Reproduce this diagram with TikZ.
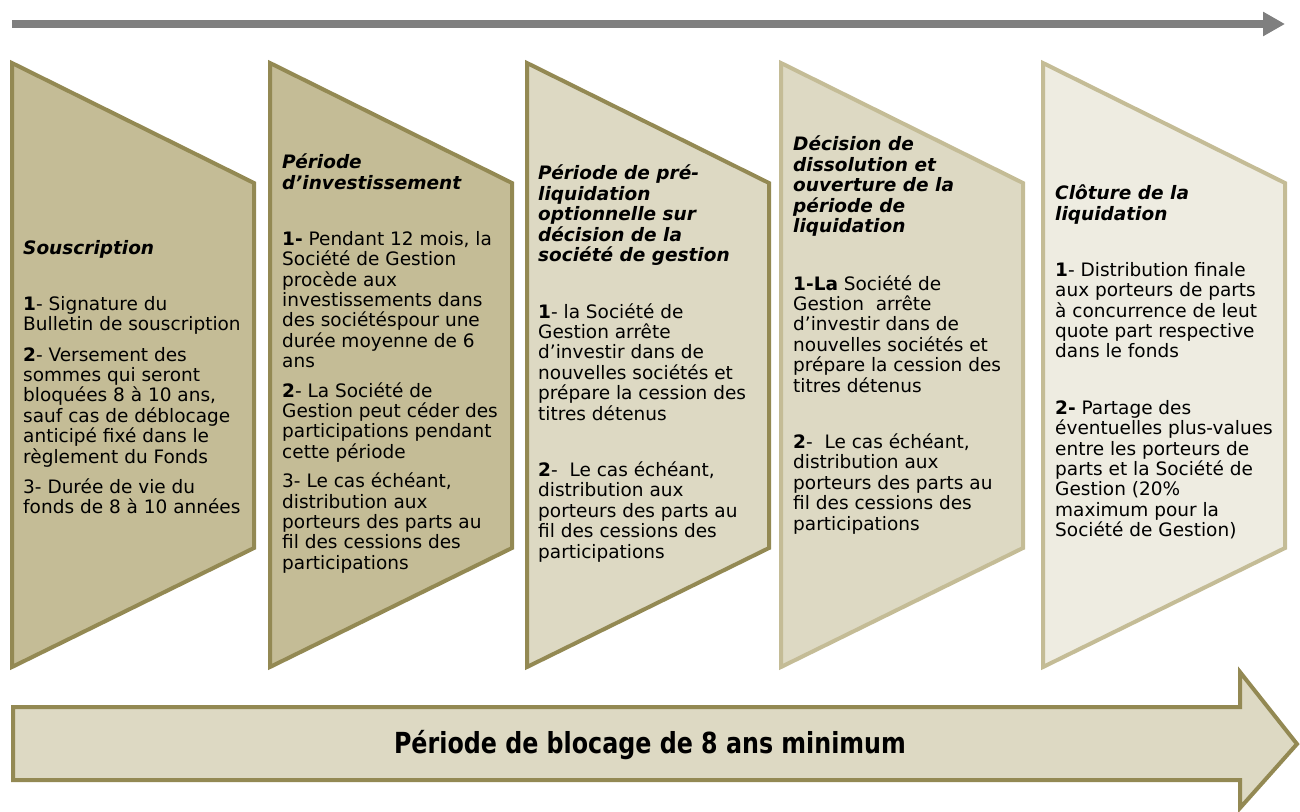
\documentclass[tikz,border=0pt]{standalone}
\usepackage{fontspec}
\usepackage{graphicx}
\setmainfont{DejaVu Sans}
\usepackage{tikz}
\usetikzlibrary{arrows.meta}

\definecolor{olive}{HTML}{938953}
\definecolor{tan}{HTML}{C4BC96}
\definecolor{lighttan}{HTML}{DDD9C3}
\definecolor{paletan}{HTML}{EEECE1}
\definecolor{timegray}{HTML}{7F7F7F}

\begin{document}
\begin{tikzpicture}[x=1pt,y=-1pt,
    phase/.style={line width=4pt, line join=miter},
    title/.style={anchor=north west, inner sep=0pt, align=left,
        font=\fontsize{18.5}{20.4}\selectfont\bfseries\itshape},
    body/.style={anchor=north west, inner sep=0pt, align=left,
        font=\fontsize{18.5}{20.4}\selectfont}]

            \useasboundingbox (0,0) rectangle (1300,811);

            % time line
            \coordinate (t0) at (12,24);
            \coordinate (t1) at (1285,24);
            \draw[timegray, line width=8pt, -{Triangle[length=22pt,width=23pt]}] (t0) -- (t1);

            % the five phases
            \draw[phase, draw=olive, fill=tan] (12,63) -- (254,183) -- (254,548) -- (12,667) -- cycle;
            \draw[phase, draw=olive, fill=tan] (270,63) -- (512,183) -- (512,548) -- (270,667) -- cycle;
            \draw[phase, draw=olive, fill=lighttan] (527,63) -- (769,183) -- (769,548) -- (527,667) -- cycle;
            \draw[phase, draw=tan, fill=lighttan] (781,63) -- (1023,183) -- (1023,548) -- (781,667) -- cycle;
            \draw[phase, draw=tan, fill=paletan] (1043,63) -- (1285,183) -- (1285,548) -- (1043,667) -- cycle;

            \node[title] (title1) at (23,240) {Souscription};
            \node[body] (body1) at (23,296) {\textbf{1}- Signature du\\Bulletin de souscription\\[10pt]
                \textbf{2}- Versement des\\sommes qui seront\\bloquées 8 à 10 ans,\\sauf cas de déblocage\\anticipé fixé dans le\\règlement du Fonds\\[10pt]
                3- Durée de vie du\\fonds de 8 à 10 années};

            \node[title] (title2) at (282,154) {Période\\d'investissement};
            \node[body] (body2) at (282,231) {\textbf{1-} Pendant 12 mois, la\\Société de Gestion\\procède aux\\investissements dans\\des sociétéspour une\\durée moyenne de 6\\ans\\[9pt]
                \textbf{2}- La Société de\\Gestion peut céder des\\participations pendant\\cette période\\[9pt]
                3- Le cas échéant,\\distribution aux\\porteurs des parts au\\fil des cessions des\\participations};

            \node[title] (title3) at (538,165) {Période de pré-\\liquidation\\optionnelle sur\\décision de la\\société de gestion};
            \node[body] (body3) at (538,303) {\textbf{1}- la Société de\\Gestion arrête\\d'investir dans de\\nouvelles sociétés et\\prépare la cession des\\titres détenus\\[36pt]
                \textbf{2}-~ Le cas échéant,\\distribution aux\\porteurs des parts au\\fil des cessions des\\participations};

            \node[title] (title4) at (793,136) {Décision de\\dissolution et\\ouverture de la\\période de\\liquidation};
            \node[body] (body4) at (793,275) {\textbf{1-La} Société de\\Gestion~~arrête\\d'investir dans de\\nouvelles sociétés et\\prépare la cession des\\titres détenus\\[36pt]
                \textbf{2}-~ Le cas échéant,\\distribution aux\\porteurs des parts au\\fil des cessions des\\participations};

            \node[title] (title5) at (1055,185) {Clôture de la\\liquidation};
            \node[body] (body5) at (1055,262) {\textbf{1}- Distribution finale\\aux porteurs de parts\\à concurrence de leut\\quote part respective\\dans le fonds\\[36pt]
                \textbf{2-} Partage des\\éventuelles plus-values\\entre les porteurs de\\parts et la Société de\\Gestion (20\%\\maximum pour la\\Société de Gestion)};

            % blocking period
            \draw[phase, draw=olive, fill=lighttan] (13,707) -- (1240,707) -- (1240,672) -- (1297,744)
                -- (1240,808) -- (1240,780) -- (13,780) -- cycle;
            \node[inner sep=0pt, font=\fontsize{29}{32}\selectfont\bfseries] (blocage) at (650,745)
                {\scalebox{0.82}[1]{Période de blocage de 8 ans minimum}};

\end{tikzpicture}
\end{document}
